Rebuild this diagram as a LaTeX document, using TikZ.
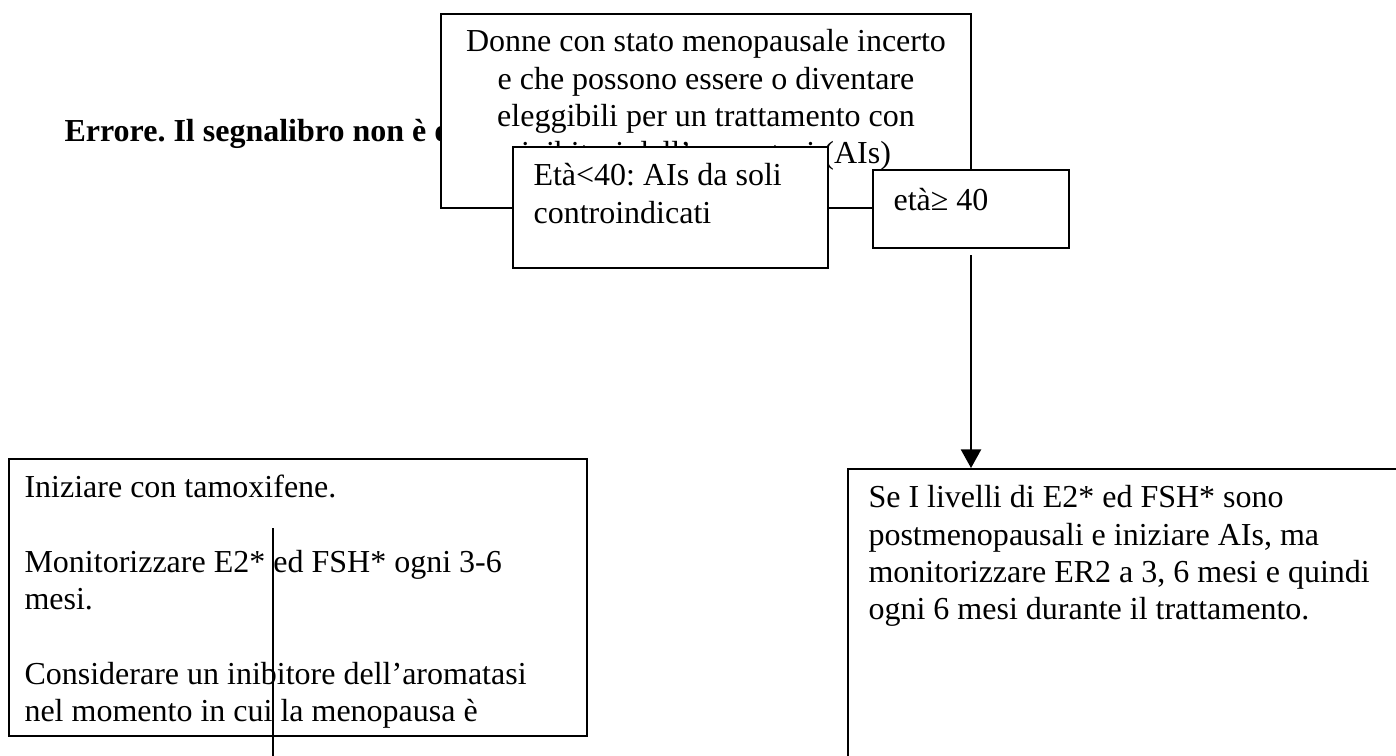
\documentclass[tikz,border=0pt]{standalone}
\usepackage{fontspec}
\setmainfont{Liberation Serif}
\usetikzlibrary{arrows.meta,positioning}
\frenchspacing

\newcommand{\pxl}{0.375pt}

\tikzset{
  box/.style={draw=black, line width=0.75pt, fill=white, inner sep=0pt, anchor=north west},
  txt/.style={font=\fontsize{12}{14}\selectfont, inner sep=0pt},
  conn/.style={draw=black, line width=0.6pt},
}

\begin{document}
\begin{tikzpicture}[x=\pxl, y=-\pxl]
\useasboundingbox (0,0) rectangle (1396,755);
\clip (0,0) rectangle (1396,755);

% left-over heading, partly hidden
\node[txt, font=\fontsize{12}{14}\selectfont\bfseries, anchor=base west] (errore) at (64,141) {Errore. Il segnalibro non è d};

% top box
\node[box, minimum width=530*\pxl, minimum height=194*\pxl] (donne) at (440,13) {};
\node[txt, align=center, anchor=north] (donnetxt) at ([yshift=-12*\pxl]donne.north) {\strut Donne con stato menopausale incerto\\e che possono essere o diventare\\eleggibili per un trattamento con\\inibitori dell’aromatasi (AIs)};

% eta < 40
\node[box, minimum width=315*\pxl, minimum height=121*\pxl] (eta) at (512,146) {};
\node[txt, align=left, anchor=north west] (etatxt) at ([shift={(21,13)}]eta.north west) {\strut Età<40: AIs da soli\\controindicati};

% eta >= 40
\node[box, minimum width=196*\pxl, minimum height=78*\pxl] (etab) at (872,169) {};
\node[txt, anchor=north west] (etabtxt) at ([shift={(21,15)}]etab.north west) {\strut età≥ 40};

% left box
\node[box, minimum width=578*\pxl, minimum height=277*\pxl] (tamox) at (8,458) {};
\node[txt, align=left, anchor=north west] (tamoxtxt) at ([shift={(16,13)}]tamox.north west) {\strut Iniziare con tamoxifene.\\[14pt]Monitorizzare E2* ed FSH* ogni 3-6\\mesi.\\[14pt]Considerare un inibitore dell’aromatasi\\nel momento in cui la menopausa è};

% right box
\node[box, minimum width=600*\pxl, minimum height=320*\pxl] (postmeno) at (847,468) {};
\node[txt, align=left, anchor=north west] (postmenotxt) at ([shift={(21,13)}]postmeno.north west) {\strut Se I livelli di E2* ed FSH* sono\\postmenopausali e iniziare AIs, ma\\monitorizzare ER2 a 3, 6 mesi e quindi\\ogni 6 mesi durante il trattamento.};

% connectors
\draw[conn, -{Triangle[width=7.6pt,length=7pt]}, shorten <=2.3pt] (etab.south) -- (etab.south |- postmeno.north);
\coordinate (vtop) at (273,528);
\coordinate (vbot) at (273,760);
\draw[conn] (vtop) -- (vbot);
\end{tikzpicture}
\end{document}
